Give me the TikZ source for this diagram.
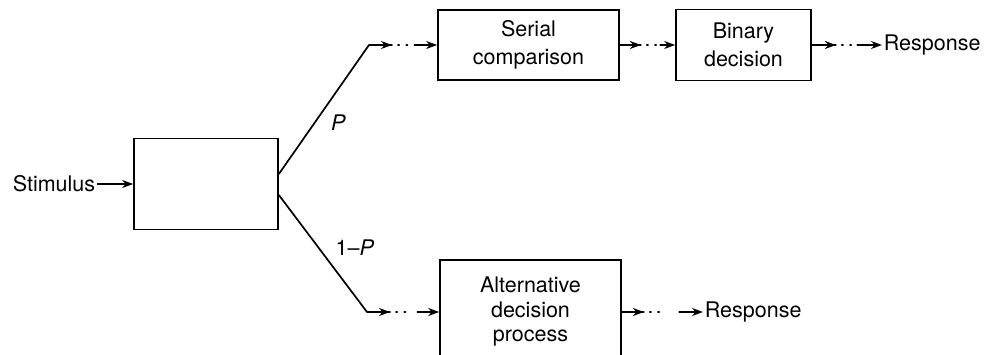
\documentclass[tikz,border=0pt]{standalone}
\usepackage{fontspec}
\setmainfont{TeX Gyre Heros}
\usetikzlibrary{arrows.meta,calc,decorations.markings}
\tikzset{
  block/.style={draw, line width=1.7pt, inner sep=0pt, align=center},
  gaparrow/.style 2 args={line cap=round,
    dash pattern=on #1 off 6pt on 1.2pt off 7pt on 1.2pt off #2 on 300pt,
    postaction={decorate},
    decoration={markings, mark=at position #1 with {\arrow{Stealth[length=11pt,width=8pt]}}}},
}
\begin{document}
\begin{tikzpicture}[x=1pt, y=1pt, line width=1.7pt, >={Stealth[length=11pt,width=8pt]},
    font=\fontsize{21.5}{28}\selectfont]
  \useasboundingbox (0,0) rectangle (989,354);
  % boxes
  \node[block, minimum width=144pt, minimum height=91pt] (filter) at (206,170) {};
  \node[block, minimum width=181pt, minimum height=70pt] (serial) at (528.5,309) {Serial\\comparison};
  \node[block, minimum width=135pt, minimum height=71pt] (binary) at (743.5,309) {Binary\\decision};
  \node[block, minimum width=181pt, minimum height=104pt,
        font=\fontsize{21.5}{24.5}\selectfont] (altern) at (530.5,42) {Alternative\\decision\\process};
  % texts
  \node[anchor=east, inner sep=1pt] (stimulus) at (97,170) {Stimulus};
  \node[anchor=west, inner sep=1pt] (respup) at (882,309) {Response};
  \node[anchor=west, inner sep=1pt] (resplow) at (703,42) {Response};
  % fork
  \coordinate (forkup) at ($(filter.east)+(0,10)$);
  \coordinate (forklow) at ($(filter.east)+(0,-11)$);
  \coordinate (bendup) at (369,309);
  \coordinate (bendlow) at (367,42);
  \draw[->] (stimulus) -- (filter);
  \draw (forkup) -- (bendup) node[pos=0.4, right=12pt] {\itshape P};
  \draw (forklow) -- (bendlow) node[pos=0.45, right=13pt] {1--\itshape P};
  % broken arrows
  \draw[->, gaparrow={23pt}{7pt}] (bendup) -- (serial);
  \draw[->, gaparrow={21pt}{4pt}] (serial) -- (binary);
  \draw[->, gaparrow={24pt}{6pt}] (binary) -- (respup);
  \draw[->, gaparrow={23pt}{12pt}] (bendlow) -- (altern);
  \draw[->, gaparrow={22pt}{20pt}] (altern) -- (resplow);
\end{tikzpicture}
\end{document}
